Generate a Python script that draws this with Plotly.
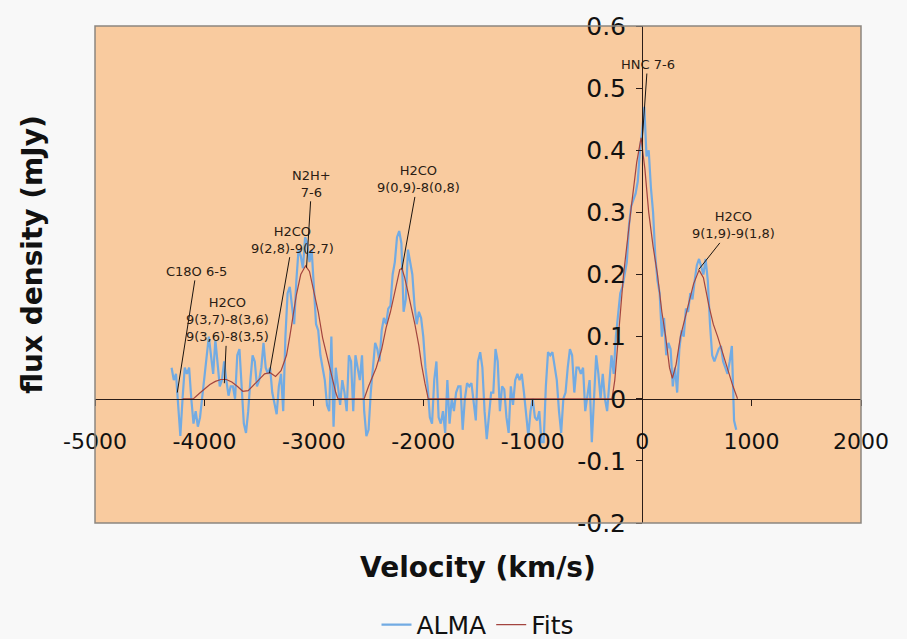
import plotly.graph_objects as go

# ALMA spectrum, 20 km/s channels starting at -4300 km/s
alma_start = -4300
alma_step = 20
alma_flux = [
    0.05, 0.03, 0.04, -0.02, -0.06, 0.0, 0.05, 0.04, 0.05, 0.0,
    -0.04, -0.02, -0.045, -0.03, 0.0, 0.03, 0.06, 0.10, 0.07, 0.04,
    0.095, 0.06, 0.02, 0.03, 0.06, 0.03, 0.005, 0.02, 0.02, 0.0,
    0.07, 0.08, 0.01, -0.04, -0.055, -0.02, 0.03, 0.07, 0.06, 0.02,
    0.03, 0.05, 0.09, 0.05, 0.04, 0.05, 0.01, -0.01, -0.025, 0.02,
    0.04,
    -0.02, 0.10, 0.17, 0.18, 0.15, 0.12, 0.19, 0.24, 0.23, 0.21,
    0.26, 0.25, 0.22, 0.24, 0.18, 0.12, 0.11, 0.07, 0.05, 0.03,
    -0.01, -0.02, 0.10, -0.045, 0.05, 0.02, -0.01, 0.03, 0.01, -0.02,
    0.07, 0.06, -0.02, 0.07, 0.05, 0.03, 0.07, -0.02, -0.06, -0.05,
    0.01, 0.05, 0.09, 0.08,
    0.06, 0.11, 0.13, 0.12, 0.145, 0.15, 0.20, 0.22, 0.26, 0.27,
    0.25, 0.14, 0.16, 0.24, 0.22, 0.20, 0.15, 0.12, 0.14, 0.13,
    0.10, 0.05, 0.02, -0.03, -0.04,
    0.03, 0.06, -0.03, -0.04, -0.02, -0.055, 0.03, -0.04, 0.0, -0.02,
    0.01, 0.02, 0.02, -0.05, 0.0, 0.025, 0.02, 0.025, -0.01, -0.035,
    0.06, 0.075, 0.05, -0.02, -0.065, -0.02, 0.01, 0.01, 0.08, 0.06,
    -0.02, 0.02, 0.015, -0.03, -0.055, 0.02,
    -0.01, 0.03, 0.04, 0.03, 0.04, 0.01, -0.03, -0.06, -0.02, 0.0,
    -0.03, -0.035, -0.02, -0.07, -0.07, 0.02, 0.075, 0.07, 0.075, 0.05,
    0.03, -0.02, -0.055, 0.0, 0.01, 0.05, 0.08, 0.07, 0.01, 0.05,
    0.05, 0.04, 0.05, -0.02, 0.01, 0.03, -0.07, 0.0, 0.07, 0.04,
    0.0,
    0.04, 0.0, -0.02, 0.03, 0.07, 0.04, 0.10, 0.135, 0.17, 0.18,
    0.20, 0.22, 0.28, 0.31, 0.32, 0.33, 0.35, 0.40, 0.43, 0.47,
    0.39, 0.40, 0.34, 0.30, 0.23, 0.19, 0.17, 0.10, 0.13, 0.07,
    0.09, 0.08, 0.02, 0.05, 0.01, 0.08, 0.11, 0.10, 0.145, 0.14,
    0.17, 0.16, 0.19, 0.215, 0.225, 0.21, 0.20, 0.225, 0.19, 0.12,
    0.07, 0.06, 0.07, 0.08, 0.085, 0.06, 0.05, 0.04, 0.06, 0.085,
    -0.035, -0.05,
]
alma_vel = [alma_start + alma_step * i for i in range(len(alma_flux))]

# fitted line profiles
fit_vel = [
    -4200, -4100, -4050, -4000, -3950, -3900, -3850, -3800, -3750, -3700,
    -3650, -3600, -3550, -3500, -3450, -3400, -3350, -3300, -3250, -3220,
    -3160, -3120, -3076, -3040, -3010, -2960, -2920, -2870, -2830, -2800,
    -2780, -2540, -2500, -2430, -2380, -2340, -2300, -2260, -2215, -2195,
    -2170, -2138, -2100, -2077, -2040, -2016, -1985, -1955, -290, -275,
    -250, -215, -170, -105, -50, -10, 25, 60, 100, 140,
    180, 215, 250, 276, 310, 350, 390, 430, 470, 520,
    560, 610, 650, 690, 740, 780, 830, 872,
]
fit_flux = [
    0.0, 0.0, 0.008, 0.016, 0.023, 0.028, 0.031, 0.031, 0.027, 0.02,
    0.012, 0.013, 0.022, 0.032, 0.04, 0.042, 0.036, 0.045, 0.07, 0.10,
    0.167, 0.20, 0.214, 0.205, 0.18, 0.14, 0.098, 0.06, 0.03, 0.01,
    0.0, 0.0, 0.02, 0.05, 0.08, 0.114, 0.14, 0.17, 0.208, 0.21,
    0.195, 0.17, 0.14, 0.12, 0.085, 0.055, 0.025, 0.0, 0.0, 0.0,
    0.03, 0.10, 0.20, 0.30, 0.38, 0.42, 0.37, 0.30, 0.245, 0.20,
    0.14, 0.10, 0.05, 0.033, 0.055, 0.10, 0.13, 0.155, 0.185, 0.207,
    0.195, 0.15, 0.12, 0.10, 0.07, 0.05, 0.02, 0.0,
]

x_ticks = [-5000, -4000, -3000, -2000, -1000, 0, 1000, 2000]
x_tick_text = ["-5000", "-4000", "-3000", "-2000", "-1000", "0", "1000", "2000"]
y_ticks = [-0.2, -0.1, 0, 0.1, 0.2, 0.3, 0.4, 0.5, 0.6]
y_tick_text = ["-0.2", "-0.1", "0", "0.1", "0.2", "0.3", "0.4", "0.5", "0.6"]

# line identifications: label, marked velocity, marked flux
line_labels = [
    "C18O 6-5",
    "H2CO<br>9(3,7)-8(3,6)<br>9(3,6)-8(3,5)",
    "H2CO<br>9(2,8)-9(2,7)",
    "N2H+<br>7-6",
    "H2CO<br>9(0,9)-8(0,8)",
    "HNC 7-6",
    "H2CO<br>9(1,9)-9(1,8)",
]
label_vel = [-4248, -3818, -3406, -3067, -2196, 0, 517]
label_flux = [0.01, 0.025, 0.041, 0.211, 0.208, 0.414, 0.208]
# where the label text sits (data coords)
label_text_pos = [(-4075, 0.205), (-3791, 0.127), (-3193, 0.256), (-3020, 0.346),
                  (-2048, 0.353), (49, 0.538), (837, 0.279)]

FONT = "Verdana, DejaVu Sans, sans-serif"

fig = go.Figure()
fig.add_trace(go.Scatter(x=alma_vel, y=alma_flux, mode="lines", name="ALMA",
                         line=dict(color="#72ABE3", width=2.2)))
fig.add_trace(go.Scatter(x=fit_vel, y=fit_flux, mode="lines", name="Fits",
                         line=dict(color="#A3443F", width=1.2)))

for txt, vx, fy, (tx, ty) in zip(line_labels, label_vel, label_flux, label_text_pos):
    fig.add_annotation(x=vx, y=fy, ax=tx, ay=ty, axref="x", ayref="y",
                       text=txt, showarrow=True, arrowhead=0, arrowwidth=1,
                       arrowcolor="#1a1410", font=dict(family=FONT, size=13, color="#2a1c14"))

fig.add_annotation(text="<b>Velocity (km/s)</b>", xref="paper", yref="paper",
                   x=0.5, y=-0.089, showarrow=False, xanchor="center", yanchor="middle",
                   font=dict(family=FONT, size=28, color="#111111"))
fig.add_annotation(text="<b>flux density (mJy)</b>", xref="paper", yref="paper",
                   x=-0.082, y=0.54, showarrow=False, textangle=-90,
                   xanchor="center", yanchor="middle",
                   font=dict(family=FONT, size=28, color="#111111"))

# plot area frame
fig.add_shape(type="rect", xref="paper", yref="paper", x0=0, x1=1, y0=0, y1=1,
              line=dict(color="#8c8680", width=1.5), layer="above")

fig.update_layout(
    width=907, height=639,
    margin=dict(l=95, r=46, t=19, b=116),
    paper_bgcolor="#F8F8F8",
    plot_bgcolor="#F9CB9F",
    font=dict(family=FONT, color="#111111"),
    showlegend=True,
    legend=dict(orientation="h", x=0.5, xanchor="center", xref="paper",
                y=0.022, yanchor="middle", yref="container",
                font=dict(family=FONT, size=25, color="#111111"), bgcolor="rgba(0,0,0,0)"),
    xaxis=dict(range=[-5000, 2000], tickvals=x_ticks, ticktext=x_tick_text,
               anchor="free", position=0.25, showline=True, linecolor="#2b1d18",
               linewidth=1.2, ticks="outside", ticklen=6, tickcolor="#2b1d18",
               ticklabelstandoff=17,
               showgrid=False, zeroline=False, tickfont=dict(size=22)),
    yaxis=dict(range=[-0.2, 0.6], tickvals=y_ticks, ticktext=y_tick_text,
               anchor="free", position=5 / 7, showline=True, linecolor="#2b1d18",
               linewidth=1.2, ticks="outside", ticklen=6, tickcolor="#2b1d18",
               ticklabelstandoff=5,
               showgrid=False, zeroline=False, tickfont=dict(size=25)),
)

fig.write_html("out.html", config={"displayModeBar": False},
               post_script="document.body.style.margin='0';")
